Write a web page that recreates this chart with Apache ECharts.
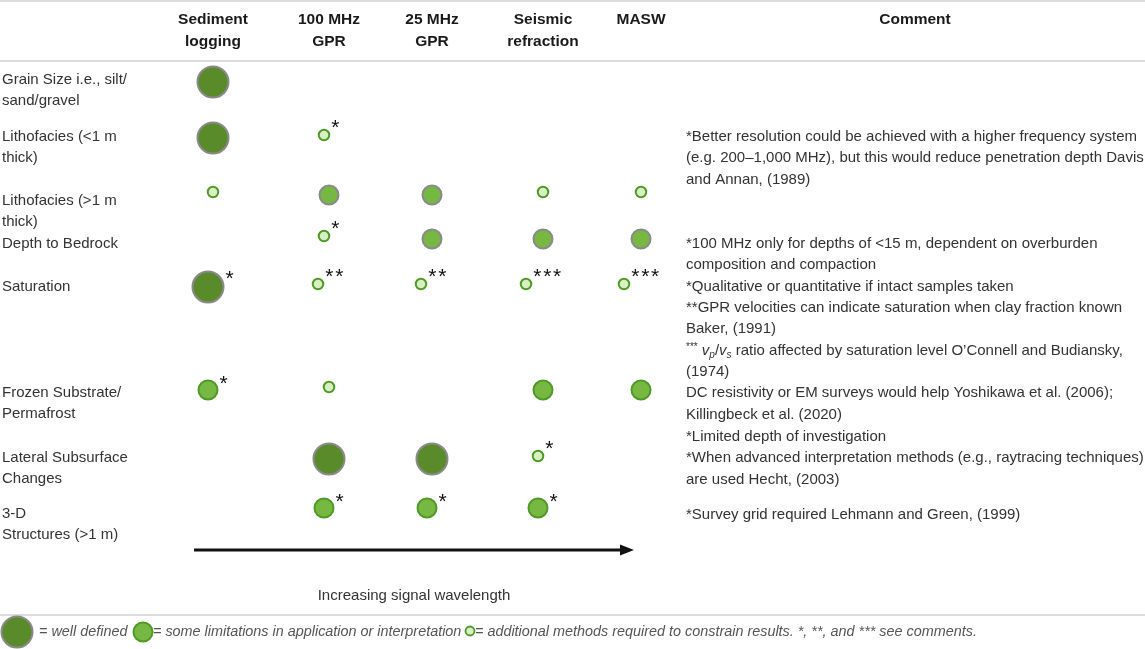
<!DOCTYPE html>
<html><head><meta charset="utf-8">
<style>html,body{margin:0;padding:0;background:#fff}#c{width:1145px;height:649px}</style>
<script src="https://cdn.jsdelivr.net/npm/echarts@6/dist/echarts.min.js"></script>
</head><body><div id="c"></div>
<script>
// ---------- DATA ----------
const columns = ['Sediment\nlogging', '100 MHz\nGPR', '25 MHz\nGPR', 'Seismic\nrefraction', 'MASW'];
const rows = [
  'Grain Size i.e., silt/\nsand/gravel',
  'Lithofacies (<1 m\nthick)',
  'Lithofacies (>1 m\nthick)',
  'Depth to Bedrock',
  'Saturation',
  'Frozen Substrate/\nPermafrost',
  'Lateral Subsurface\nChanges',
  '3-D\nStructures (>1 m)'
];
// 3 = well defined, 2 = some limitations, 1 = additional methods required, 0 = none
const ratings = [
  [3, 0, 0, 0, 0],
  [3, 1, 0, 0, 0],
  [1, 2, 2, 1, 1],
  [0, 1, 2, 2, 2],
  [3, 1, 1, 1, 1],
  [2, 1, 0, 2, 2],
  [0, 3, 3, 1, 0],
  [0, 2, 2, 2, 0]
];
const notes = [
  ['', '', '', '', ''],
  ['', '*', '', '', ''],
  ['', '', '', '', ''],
  ['', '*', '', '', ''],
  ['*', '**', '**', '***', '***'],
  ['*', '', '', '', ''],
  ['', '', '', '*', ''],
  ['', '*', '*', '*', '']
];
const commentLines = [
  '*Better resolution could be achieved with a higher frequency system',
  '(e.g. 200\u20131,000 MHz), but this would reduce penetration depth Davis',
  'and Annan, (1989)',
  '*100 MHz only for depths of <15 m, dependent on overburden',
  'composition and compaction',
  '*Qualitative or quantitative if intact samples taken',
  '**GPR velocities can indicate saturation when clay fraction known',
  'Baker, (1991)',
  '{ast|***} {it|v}{sub|p}{n|/}{it|v}{sub|s}{n| ratio affected by saturation level O\u2019Connell and Budiansky,}',
  '(1974)',
  'DC resistivity or EM surveys would help Yoshikawa et al. (2006);',
  'Killingbeck et al. (2020)',
  '*Limited depth of investigation',
  '*When advanced interpretation methods (e.g., raytracing techniques)',
  'are used Hecht, (2003)',
  '*Survey grid required Lehmann and Green, (1999)'
];
const commentHeader = 'Comment';
const arrowLabel = 'Increasing signal wavelength';
const legendTexts = [
  '= well defined',
  '= some limitations in application or interpretation',
  '= additional methods required to constrain results. *, **, and *** see comments.'
];

// ---------- LAYOUT / STYLE ----------
const W = 1145, H = 649;
const colX = [213, 329, 432, 543, 641];
const rowY = [82, 138, 195, 239, 287, 390, 459, 508];
const rowLabelY = [80, 137, 201, 244, 287, 393, 458, 514];
const commentLineY = [137, 158, 180, 244, 265, 287, 308, 329, 351, 372, 393, 415, 437, 458, 480, 515];
const grayBorderMediumRows = [2, 3];

const DARK = '#5a8b2b', GRAYB = '#8a8a8a', MID = '#77b843', GREENB = '#4f9a27', LIGHT = '#d7efc2';
const TXT = '#333';
const FONT = '"Liberation Sans", Arial, Helvetica, sans-serif';

const levelStyle = {
  3: { size: 31, fill: DARK, border: GRAYB, bw: 2, dy: 0, lblOff: -8 },
  2: { size: 19, fill: MID, border: GREENB, bw: 2, dy: 0, lblOff: -6 },
  1: { size: 10.5, fill: LIGHT, border: GREENB, bw: 2, dy: -3, lblOff: -7 }
};

function buildData(level) {
  const out = [];
  ratings.forEach((r, i) => r.forEach((lv, j) => {
    if (lv !== level) return;
    const n = notes[i][j];
    const dx = n ? -(n.length * 6 - 1) : 0;
    const st = levelStyle[lv];
    const border = (lv === 2 && grayBorderMediumRows.includes(i)) ? GRAYB : st.border;
    out.push({
      value: [colX[j] + dx, rowY[i] + st.dy],
      note: n.split('').join('\u200A'),
      itemStyle: { color: st.fill, borderColor: border, borderWidth: st.bw, opacity: 1 }
    });
  }));
  return out;
}

const series = [3, 2, 1].map(lv => ({
  type: 'scatter',
  name: String(lv),
  symbol: 'circle',
  symbolSize: levelStyle[lv].size,
  data: buildData(lv),
  silent: true,
  itemStyle: { opacity: 1 },
  label: {
    show: true,
    position: 'right',
    distance: 1,
    offset: [0, levelStyle[lv].lblOff],
    formatter: p => p.data.note,
    fontSize: 21,
    color: '#111',
    fontFamily: FONT
  },
  z: 5
}));

// ---------- GRAPHIC (table text) ----------
const g = [];
function hline(y, w) {
  g.push({ type: 'line', shape: { x1: 0, y1: y, x2: W, y2: y }, style: { stroke: '#dcdcdc', lineWidth: w || 2 }, silent: true });
}
hline(1); hline(61); hline(615);

columns.forEach((c, j) => {
  g.push({ type: 'text', x: colX[j], y: 9, style: { text: c, font: 'bold 15.5px ' + FONT, fill: '#1a1a1a', align: 'center', verticalAlign: 'top', lineHeight: 22 } });
});
g.push({ type: 'text', x: 915, y: 9, style: { text: commentHeader, font: 'bold 15.5px ' + FONT, fill: '#1a1a1a', align: 'center', verticalAlign: 'top', lineHeight: 22 } });

rows.forEach((r, i) => {
  g.push({ type: 'text', x: 2, y: rowLabelY[i] - 11, style: { text: r, font: '15px ' + FONT, fill: TXT, align: 'left', verticalAlign: 'top', lineHeight: 21.5 } });
});

commentLines.forEach((t, k) => {
  const st = { text: t, font: '15px ' + FONT, fill: TXT, align: 'left', verticalAlign: 'middle' };
  if (t.indexOf('{') === 0) {
    st.rich = {
      ast: { fontSize: 10, fontFamily: FONT, fill: TXT, verticalAlign: 'top', lineHeight: 18 },
      it: { fontSize: 15, fontStyle: 'italic', fontFamily: FONT, fill: TXT, lineHeight: 18 },
      sub: { fontSize: 10, fontStyle: 'italic', fontFamily: FONT, fill: TXT, verticalAlign: 'bottom', lineHeight: 18 },
      n: { fontSize: 15, fontFamily: FONT, fill: TXT, lineHeight: 18 }
    };
  }
  g.push({ type: 'text', x: 686, y: commentLineY[k], style: st });
});

// arrow
g.push({ type: 'line', shape: { x1: 194, y1: 550, x2: 622, y2: 550 }, style: { stroke: '#111', lineWidth: 3.2 } });
g.push({ type: 'polygon', shape: { points: [[620, 544.5], [634, 550], [620, 555.5]] }, style: { fill: '#111' } });
g.push({ type: 'text', x: 414, y: 596, style: { text: arrowLabel, font: '15px ' + FONT, fill: TXT, align: 'center', verticalAlign: 'middle' } });

// legend
const LFONT = 'italic 14.4px ' + FONT;
g.push({ type: 'circle', shape: { cx: 17, cy: 632, r: 15.5 }, style: { fill: DARK, stroke: GRAYB, lineWidth: 2 } });
g.push({ type: 'text', x: 39, y: 632, style: { text: legendTexts[0], font: LFONT, fill: '#555', align: 'left', verticalAlign: 'middle' } });
g.push({ type: 'circle', shape: { cx: 143, cy: 632, r: 9.5 }, style: { fill: MID, stroke: GREENB, lineWidth: 2 } });
g.push({ type: 'text', x: 153, y: 632, style: { text: legendTexts[1], font: LFONT, fill: '#555', align: 'left', verticalAlign: 'middle' } });
g.push({ type: 'circle', shape: { cx: 470, cy: 631, r: 4.5 }, style: { fill: LIGHT, stroke: GREENB, lineWidth: 1.8 } });
g.push({ type: 'text', x: 475, y: 632, style: { text: legendTexts[2], font: LFONT, fill: '#555', align: 'left', verticalAlign: 'middle' } });

const chart = echarts.init(document.getElementById('c'), null, { renderer: 'canvas' });
chart.setOption({
  animation: false,
  backgroundColor: '#fff',
  grid: { left: 0, right: 0, top: 0, bottom: 0 },
  xAxis: { type: 'value', min: 0, max: W, show: false },
  yAxis: { type: 'value', min: 0, max: H, inverse: true, show: false },
  series: series,
  graphic: g
});
</script>
</body></html>
